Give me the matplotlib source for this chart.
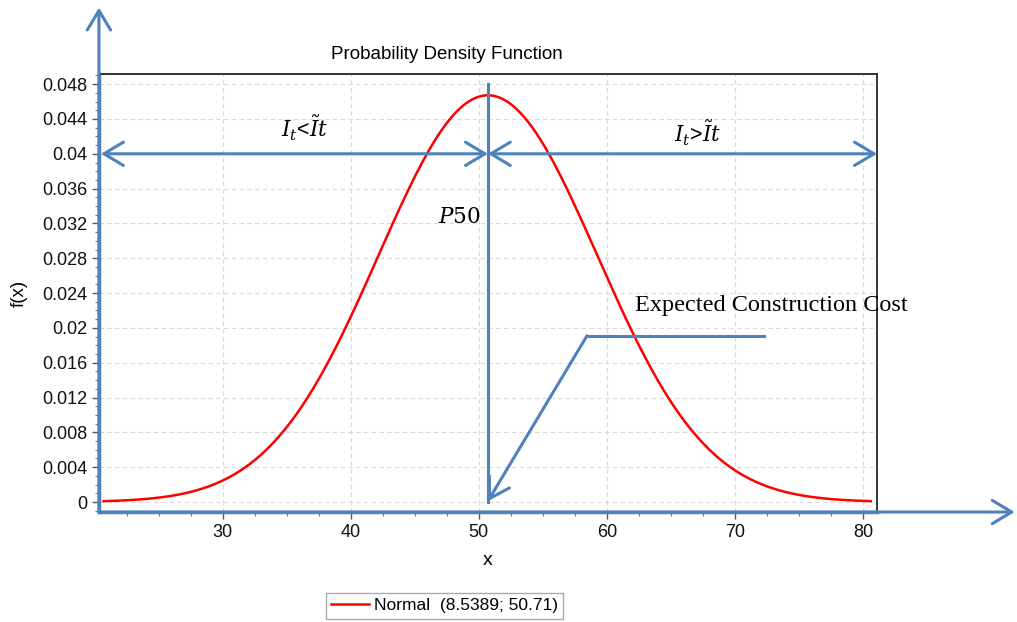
import numpy as np
import matplotlib
matplotlib.use("Agg")
import matplotlib.pyplot as plt
from matplotlib.ticker import MultipleLocator, FuncFormatter

# Fitted distribution parameters (sigma; mu)
sigma = 8.5389
mu = 50.71
x_range = [20.7, 80.6]

x_ticks = [30, 40, 50, 60, 70, 80]
y_ticks = [0, 0.004, 0.008, 0.012, 0.016, 0.02, 0.024, 0.028, 0.032, 0.036, 0.04, 0.044, 0.048]

title = "Probability Density Function"
legend_label = "Normal  (8.5389; 50.71)"

BLUE = "#4f81bd"
plt.rcParams["font.family"] = ["Liberation Sans", "DejaVu Sans"]

fig = plt.figure(figsize=(10.17, 6.22), dpi=100)
ax = fig.add_axes([0.0973, 0.1768, 0.765, 0.704])

xs = np.linspace(x_range[0], x_range[1], 400)
pdf = np.exp(-0.5 * ((xs - mu) / sigma) ** 2) / (sigma * np.sqrt(2 * np.pi))
line, = ax.plot(xs, pdf, color="red", lw=1.8, label=legend_label)

ax.set_xlim(20.34, 81.09)
ax.set_ylim(-0.00115, 0.04915)
ax.set_xticks(x_ticks)
ax.set_yticks(y_ticks)
ax.xaxis.set_minor_locator(MultipleLocator(2.5))
ax.yaxis.set_minor_locator(MultipleLocator(0.001))
ax.yaxis.set_major_formatter(FuncFormatter(lambda v, p: "0" if v == 0 else f"{v:g}"))
ax.tick_params(which="major", direction="out", length=5, width=1, colors="#555555",
               labelcolor="#111111", labelsize=13)
ax.tick_params(which="minor", direction="out", length=3, width=0.8, colors="#777777")
ax.grid(True, which="major", color="#d9d9d9", ls=(0, (4, 3)), lw=0.8)

for s in ("top", "right"):
    ax.spines[s].set_color("#333333")
    ax.spines[s].set_linewidth(1.4)
for s in ("left", "bottom"):
    ax.spines[s].set_color(BLUE)
    ax.spines[s].set_linewidth(2.5)

ax.set_title(title, fontsize=13.5, pad=11, x=0.447)
ax.set_xlabel("x", fontsize=14, labelpad=8)
ax.set_ylabel("f(x)", fontsize=13.5, labelpad=10)

arrow_kw = dict(arrowstyle="->,head_length=0.7,head_width=0.42", color=BLUE, lw=2.2,
                mutation_scale=20, shrinkA=0, shrinkB=0)
dbl_kw = dict(arrow_kw, arrowstyle="<->,head_length=0.7,head_width=0.42")

# Extended coordinate axes with arrowheads
ax.annotate("", xy=(1.177, 0), xytext=(0, 0), xycoords="axes fraction",
            textcoords="axes fraction", arrowprops=arrow_kw, annotation_clip=False)
ax.annotate("", xy=(0, 1.152), xytext=(0, 0), xycoords="axes fraction",
            textcoords="axes fraction", arrowprops=arrow_kw, annotation_clip=False)

# Median marker and the two regions around it
ax.plot([mu, mu], [0, 0.048], color=BLUE, lw=2.2, clip_on=False)
ax.annotate("", xy=(20.5, 0.04), xytext=(mu, 0.04), arrowprops=dbl_kw, annotation_clip=False)
ax.annotate("", xy=(81.09, 0.04), xytext=(mu, 0.04), arrowprops=dbl_kw, annotation_clip=False)

ax.text(36.4, 0.0429, r"$I_t$<$\tilde{I}t$", fontsize=15.5, ha="center", va="center",
        math_fontfamily="dejavuserif")
ax.text(67.1, 0.0424, r"$I_t$>$\tilde{I}t$", fontsize=15.5, ha="center", va="center",
        math_fontfamily="dejavuserif")
ax.text(48.5, 0.0327, r"$P50$", fontsize=15.5, ha="center", va="center",
        math_fontfamily="dejavuserif")

# Leader for the expected construction cost
ax.plot([72.25, 58.6], [0.0191, 0.0191], color=BLUE, lw=2.2)
ax.annotate("", xy=(mu, 0.0001), xytext=(58.45, 0.0191), arrowprops=arrow_kw)
ax.text(62.2, 0.0226, "Expected Construction Cost", fontsize=17.5, ha="left", va="center",
        family="Liberation Serif")

fig.legend(handles=[line], loc="center", bbox_to_anchor=(0.437, 0.026), fontsize=12.5,
           fancybox=False, edgecolor="#aaaaaa", framealpha=1, handlelength=2.2,
           handletextpad=0.3, borderpad=0.3)

fig.savefig("out.png", dpi=100)
